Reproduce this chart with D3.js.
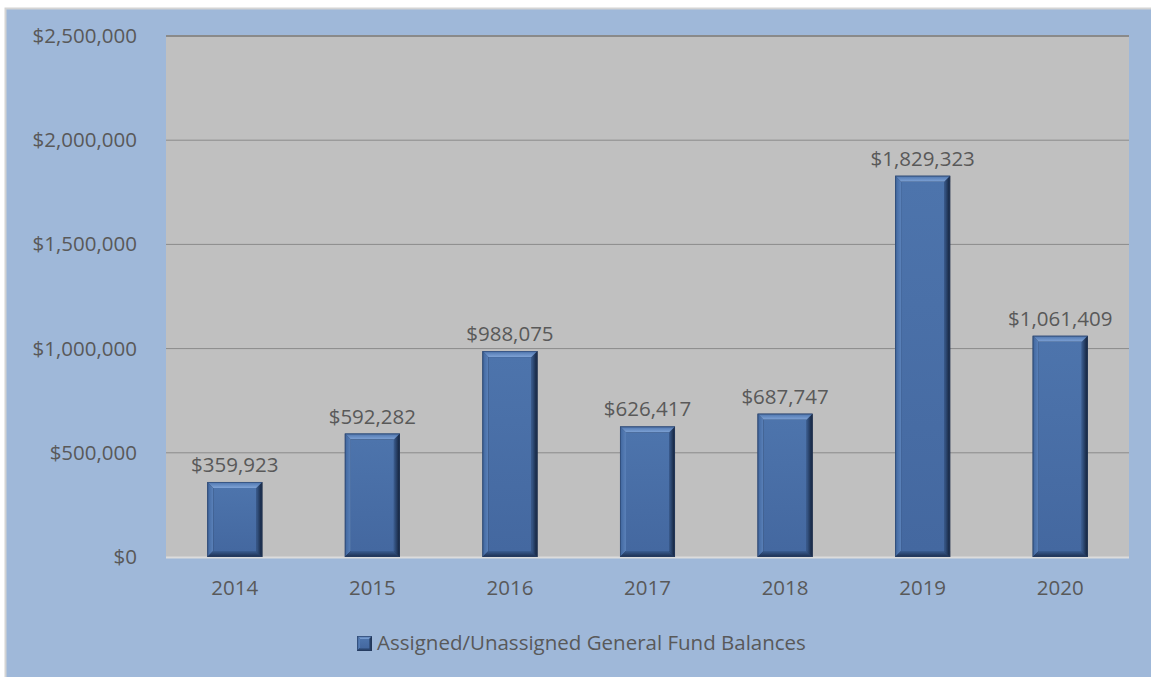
<!DOCTYPE html>
<html>
<head>
<meta charset="utf-8">
<script src="https://cdn.jsdelivr.net/npm/d3@7"></script>
<style>
body { margin: 0; background: #fff; }
text { font-family: "Open Sans", Lato, sans-serif; fill: #595959; }
</style>
</head>
<body>
<div id="chart"></div>
<script>
const years = ['2014','2015','2016','2017','2018','2019','2020'];
const balances = [359923, 592282, 988075, 626417, 687747, 1829323, 1061409];
const yTicks = [0, 500000, 1000000, 1500000, 2000000, 2500000];
const seriesName = 'Assigned/Unassigned General Fund Balances';

const width = 1151, height = 677;
const plot = {left: 166, right: 1129, top: 36, bottom: 557};
const fs = '20.5px';

const svg = d3.select('#chart')
              .append('svg')
              .attr('width', width)
              .attr('height', height);

// gradients for the bevel faces
const defs = svg.append('defs');
function grad(id, x1, y1, x2, y2, c1, c2) {
    let g = defs.append('linearGradient').attr('id', id)
                .attr('x1', x1).attr('y1', y1).attr('x2', x2).attr('y2', y2);
    g.append('stop').attr('offset', '0%').attr('stop-color', c1);
    g.append('stop').attr('offset', '100%').attr('stop-color', c2);
}
grad('gTop', 0, 0, 0, 1, '#4d74ad', '#7fa3d6');
grad('gLeft', 0, 0, 1, 0, '#3f659d', '#5b82ba');
grad('gRight', 0, 0, 1, 0, '#3a5c8f', '#111e35');
grad('gBottom', 0, 0, 0, 1, '#3b5e92', '#1b2d4d');
grad('gFace', 0, 0, 0, 1, '#4d74ac', '#4468a0');

// outer frame
svg.append('rect')
   .attr('x', 5.5).attr('y', 8.5)
   .attr('width', width).attr('height', height)
   .style('fill', '#9fb8d9')
   .style('stroke', '#d4d4d4')
   .style('stroke-width', 2);

svg.append('rect')
   .attr('x', plot.left).attr('y', plot.top)
   .attr('width', plot.right - plot.left).attr('height', plot.bottom - plot.top)
   .style('fill', '#c0c0c0');

let x = d3.scaleBand().domain(years).range([plot.left, plot.right]).paddingInner(0.6).paddingOuter(0.3);
let y = d3.scaleLinear().domain([0, 2500000]).range([plot.bottom, plot.top]);

const money = d => '$' + d3.format(',')(d);

// gridlines
svg.selectAll('.grid')
   .data(yTicks.filter(d => d > 0))
   .enter()
   .append('line')
   .attr('x1', plot.left).attr('x2', plot.right)
   .attr('y1', d => y(d)).attr('y2', d => y(d))
   .style('stroke', '#8a8a8a')
   .style('stroke-width', d => d == 2500000 ? 2 : 1);

svg.append('line')
   .attr('x1', plot.left).attr('x2', plot.right)
   .attr('y1', plot.bottom + 0.5).attr('y2', plot.bottom + 0.5)
   .style('stroke', '#dcdcdc')
   .style('stroke-width', 2);

// y labels
svg.selectAll('.ylab')
   .data(yTicks)
   .enter()
   .append('text')
   .attr('x', 137)
   .attr('y', d => y(d) + 7)
   .style('text-anchor', 'end')
   .style('font-size', fs)
   .text(money);

// x labels
svg.selectAll('.xlab')
   .data(years)
   .enter()
   .append('text')
   .attr('x', d => x(d) + x.bandwidth()/2)
   .attr('y', 595)
   .style('text-anchor', 'middle')
   .style('font-size', fs)
   .text(d => d);

// bevelled bars
function drawBar(g, x0, y0, w, h, b) {
    b = Math.min(b, h/2);
    const x1 = x0 + w, y1 = y0 + h;
    g.append('rect').attr('x', x0).attr('y', y0).attr('width', w).attr('height', h).style('fill', '#1a2a45');
    g.append('polygon').attr('points', [[x0,y0],[x0+b,y0+b],[x0+b,y1-b],[x0,y1]].join(' ')).style('fill', 'url(#gLeft)');
    g.append('polygon').attr('points', [[x1,y0],[x1,y1],[x1-b,y1-b],[x1-b,y0+b]].join(' ')).style('fill', 'url(#gRight)');
    g.append('polygon').attr('points', [[x0,y1],[x0+b,y1-b],[x1-b,y1-b],[x1,y1]].join(' ')).style('fill', 'url(#gBottom)');
    g.append('polygon').attr('points', [[x0,y0],[x1,y0],[x1-b,y0+b],[x0+b,y0+b]].join(' ')).style('fill', 'url(#gTop)');
    g.append('rect').attr('x', x0+b).attr('y', y0+b).attr('width', w-2*b).attr('height', h-2*b).style('fill', 'url(#gFace)');
    g.append('rect').attr('x', x0+0.5).attr('y', y0+0.5).attr('width', w-1).attr('height', h-1)
     .style('fill', 'none').style('stroke', '#2a4168').style('stroke-width', 1).style('stroke-opacity', 0.6);
}

years.forEach((yr, i) => {
    let g = svg.append('g');
    let v = balances[i];
    drawBar(g, x(yr), y(v), x.bandwidth(), plot.bottom - y(v), 6);
    svg.append('text')
       .attr('x', x(yr) + x.bandwidth()/2)
       .attr('y', y(v) - 10)
       .style('text-anchor', 'middle')
       .style('font-size', fs)
       .text(money(v));
});

// legend
let lg = svg.append('g');
drawBar(lg, 357, 636, 15, 15, 3);
svg.append('text')
   .attr('x', 377)
   .attr('y', 650)
   .style('font-size', fs)
   .text(seriesName);
</script>
</body>
</html>
